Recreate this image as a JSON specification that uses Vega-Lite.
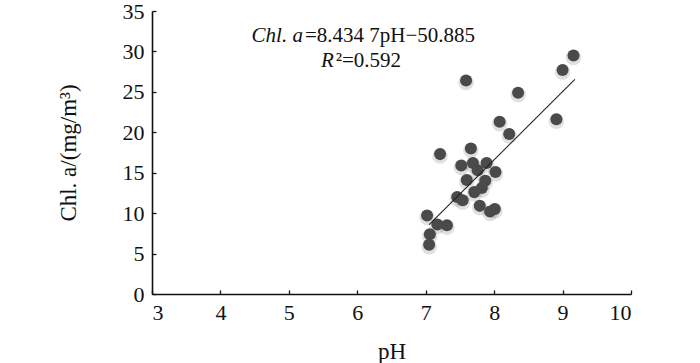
{
  "$schema": "https://vega.github.io/schema/vega-lite/v6.json",
  "width": 479,
  "height": 283,
  "autosize": {"type": "none"},
  "padding": {"left": 152, "top": 11, "right": 69, "bottom": 69},
  "background": "white",
  "config": {
    "view": {"stroke": null},
    "font": "Liberation Serif",
    "axis": {
      "grid": false,
      "domainColor": "#111",
      "domainWidth": 1.6,
      "tickColor": "#111",
      "tickWidth": 1.3,
      "tickSize": -4,
      "labelFont": "Liberation Serif",
      "labelFontSize": 22,
      "labelColor": "#111",
      "titleFont": "Liberation Serif",
      "titleFontSize": 23,
      "titleFontWeight": "normal",
      "titleColor": "#111"
    }
  },
  "datasets": {
    "points": [
      {"pH": 9.16, "chla": 29.5}, {"pH": 9.0, "chla": 27.7}, {"pH": 8.35, "chla": 24.9},
      {"pH": 7.59, "chla": 26.4}, {"pH": 8.91, "chla": 21.6}, {"pH": 8.08, "chla": 21.3},
      {"pH": 8.22, "chla": 19.8}, {"pH": 7.21, "chla": 17.3}, {"pH": 7.66, "chla": 18.0},
      {"pH": 7.52, "chla": 15.9}, {"pH": 7.69, "chla": 16.2}, {"pH": 7.89, "chla": 16.2},
      {"pH": 8.02, "chla": 15.1}, {"pH": 7.76, "chla": 15.3}, {"pH": 7.6, "chla": 14.1},
      {"pH": 7.87, "chla": 14.0}, {"pH": 7.71, "chla": 12.6}, {"pH": 7.82, "chla": 13.1},
      {"pH": 7.46, "chla": 12.0}, {"pH": 7.54, "chla": 11.6}, {"pH": 7.79, "chla": 10.9},
      {"pH": 8.01, "chla": 10.5}, {"pH": 7.94, "chla": 10.2}, {"pH": 7.02, "chla": 9.7},
      {"pH": 7.31, "chla": 8.5}, {"pH": 7.17, "chla": 8.6}, {"pH": 7.06, "chla": 7.4},
      {"pH": 7.05, "chla": 6.1}
    ],
    "fit": [{"pH": 7.05, "chla": 8.58}, {"pH": 9.18, "chla": 26.55}],
    "eqItalic": [{"pH": 5.22, "chla": 31.15, "label": "Chl. a"}, {"pH": 5.67, "chla": 28.06, "label": "R"}],
    "eqNormal": [{"pH": 5.22, "chla": 31.15, "label": "=8.434 7pH−50.885"}, {"pH": 5.67, "chla": 28.06, "label": "²=0.592"}]
  },
  "encoding": {
    "x": {
      "field": "pH", "type": "quantitative",
      "scale": {"domain": [3, 10], "nice": false, "zero": false},
      "axis": {"values": [3, 4, 5, 6, 7, 8, 9, 10], "title": "pH", "labelPadding": 12, "titlePadding": 17}
    },
    "y": {
      "field": "chla", "type": "quantitative",
      "scale": {"domain": [0, 35], "nice": false, "zero": false},
      "axis": {"values": [0, 5, 10, 15, 20, 25, 30, 35], "title": "Chl. a/(mg/m³)", "labelPadding": 12, "titlePadding": 42}
    }
  },
  "layer": [
    {
      "data": {"name": "points"},
      "mark": {"type": "circle", "color": "#000", "opacity": 0.12, "size": 240, "yOffset": 2}
    },
    {
      "data": {"name": "points"},
      "mark": {"type": "circle", "color": "#4a4a4a", "opacity": 1, "size": 145}
    },
    {
      "data": {"name": "fit"},
      "mark": {"type": "line", "color": "#222", "strokeWidth": 1.1}
    },
    {
      "data": {"name": "eqItalic"},
      "mark": {"type": "text", "align": "right", "baseline": "alphabetic", "fontStyle": "italic", "fontSize": 21, "font": "Liberation Serif", "color": "#111", "dx": -1},
      "encoding": {"text": {"field": "label"}}
    },
    {
      "data": {"name": "eqNormal"},
      "mark": {"type": "text", "align": "left", "baseline": "alphabetic", "fontSize": 21, "font": "Liberation Serif", "color": "#111", "dx": 1},
      "encoding": {"text": {"field": "label"}}
    }
  ]
}
